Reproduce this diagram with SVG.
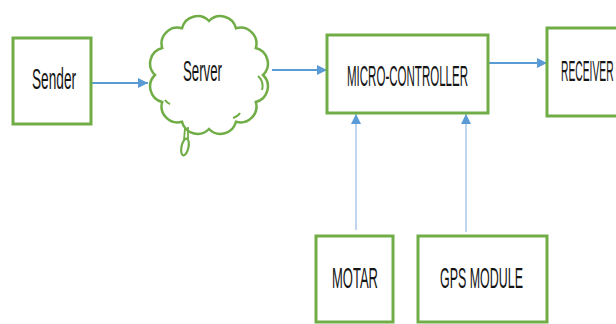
<svg xmlns="http://www.w3.org/2000/svg" width="616" height="324" viewBox="0 0 616 324">
<defs>
<style>
.box{fill:#fff;stroke:#70AD47;stroke-width:3}
.lbl{font-family:"Liberation Sans",Arial,sans-serif;font-size:29px;fill:#151515}
.conn{stroke:#5B9BD5;stroke-width:1.8;fill:none}
.connv{stroke:#A9C8E8;stroke-width:1.5;fill:none}
</style>
<marker id="ah" viewBox="0 0 10 10" refX="10" refY="5" markerWidth="10" markerHeight="10" markerUnits="userSpaceOnUse" orient="auto">
<path d="M0,0 L10,5 L0,10 Z" fill="#5B9BD5"/>
</marker>
</defs>
<rect width="616" height="324" fill="#fff"/>
<g id="connectors">
<line class="conn" x1="91" y1="83" x2="148" y2="83" marker-end="url(#ah)"/>
<line class="conn" x1="272" y1="70" x2="327" y2="70" marker-end="url(#ah)"/>
<line class="conn" x1="489" y1="63" x2="547" y2="63" marker-end="url(#ah)"/>
<line class="connv" x1="356" y1="230" x2="356" y2="114" marker-end="url(#ah)"/>
<line class="connv" x1="466" y1="232" x2="466" y2="114" marker-end="url(#ah)"/>
</g>
<g id="sender">
<rect class="box" x="13" y="38" width="78" height="86"/>
<text class="lbl" transform="translate(32 89) scale(0.42 1)" textLength="104.8" lengthAdjust="spacingAndGlyphs">Sender</text>
</g>
<g id="server">
<path d="M209,21 A16,16 0 0 1 236,28.2 A16,16 0 0 1 255.8,48 A16,16 0 0 1 263,75 A16,16 0 0 1 255.8,102 A16,16 0 0 1 236,121.8 A16,16 0 0 1 209,129 A16,16 0 0 1 182,121.8 A16,16 0 0 1 162.2,102 A16,16 0 0 1 155,75 A16,16 0 0 1 162.2,48 A16,16 0 0 1 182,28.2 A16,16 0 0 1 209,21 Z" fill="#fff" stroke="#70AD47" stroke-width="2.5"/>
<path d="M258,76 A14,14 0 0 1 262,90 M233,118 A12,12 0 0 0 240,113 M165,100 A10,10 0 0 0 170,104" fill="none" stroke="#70AD47" stroke-width="2"/>
<path d="M185,128 L184,140 M188,127 L188,139" fill="none" stroke="#70AD47" stroke-width="1.8"/>
<ellipse cx="185" cy="147" rx="3.5" ry="8.5" transform="rotate(12 185 147)" fill="#fff" stroke="#70AD47" stroke-width="2.2"/>
<text class="lbl" transform="translate(183 81) scale(0.42 1)" textLength="92.9" lengthAdjust="spacingAndGlyphs">Server</text>
</g>
<g id="microcontroller">
<rect class="box" x="327" y="35" width="161" height="78"/>
<text class="lbl" transform="translate(347 86) scale(0.42 1)" textLength="288.1" lengthAdjust="spacingAndGlyphs">MICRO-CONTROLLER</text>
</g>
<g id="receiver">
<rect class="box" x="547" y="28" width="80" height="88"/>
<text class="lbl" transform="translate(561 81) scale(0.36 1)" textLength="146" lengthAdjust="spacingAndGlyphs">RECEIVER</text>
</g>
<g id="motar">
<rect class="box" x="316" y="236" width="77" height="86"/>
<text class="lbl" transform="translate(332 288) scale(0.42 1)" textLength="109.5" lengthAdjust="spacingAndGlyphs">MOTAR</text>
</g>
<g id="gps">
<rect class="box" x="418" y="236" width="129" height="86"/>
<text class="lbl" transform="translate(440 288) scale(0.42 1)" textLength="197.6" lengthAdjust="spacingAndGlyphs">GPS MODULE</text>
</g>
</svg>
